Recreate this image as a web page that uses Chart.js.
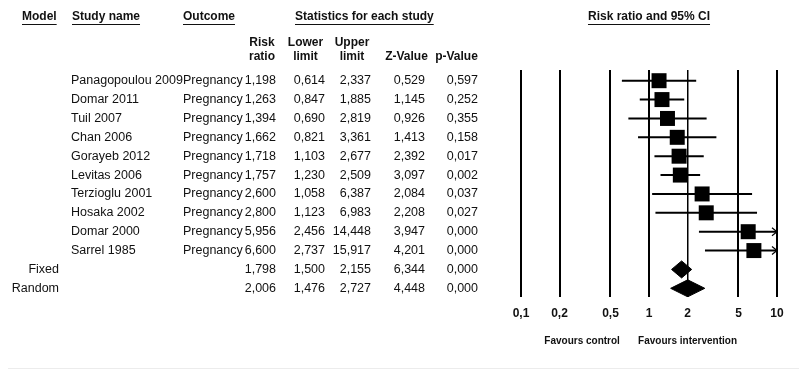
<!DOCTYPE html>
<html>
<head>
<meta charset="utf-8">
<script src="https://cdn.jsdelivr.net/npm/chart.js@4.4.1/dist/chart.umd.min.js"></script>
<style>
  body { margin: 0; background: #fff; }
  #forest { display: block; }
</style>
</head>
<body>
<canvas id="forest" width="799" height="370"></canvas>
<script>
// study rows
const studies = ['Panagopoulou 2009', 'Domar 2011', 'Tuil 2007', 'Chan 2006', 'Gorayeb 2012',
  'Levitas 2006', 'Terzioglu 2001', 'Hosaka 2002', 'Domar 2000', 'Sarrel 1985'];
const outcomes = ['Pregnancy', 'Pregnancy', 'Pregnancy', 'Pregnancy', 'Pregnancy',
  'Pregnancy', 'Pregnancy', 'Pregnancy', 'Pregnancy', 'Pregnancy'];
const riskRatio = [1.198, 1.263, 1.394, 1.662, 1.718, 1.757, 2.600, 2.800, 5.956, 6.600];
const lowerLimit = [0.614, 0.847, 0.690, 0.821, 1.103, 1.230, 1.058, 1.123, 2.456, 2.737];
const upperLimit = [2.337, 1.885, 2.819, 3.361, 2.677, 2.509, 6.387, 6.983, 14.448, 15.917];
const zValue = [0.529, 1.145, 0.926, 1.413, 2.392, 3.097, 2.084, 2.208, 3.947, 4.201];
const pValue = [0.597, 0.252, 0.355, 0.158, 0.017, 0.002, 0.037, 0.027, 0.000, 0.000];

// pooled rows
const models = ['Fixed', 'Random'];
const pooledRR = [1.798, 2.006];
const pooledLower = [1.500, 1.476];
const pooledUpper = [2.155, 2.727];
const pooledZ = [6.344, 4.448];
const pooledP = [0.000, 0.000];

const xTicks = [0.1, 0.2, 0.5, 1, 2, 5, 10];

const FONT = "'Liberation Sans', Arial, sans-serif";
const fmt = v => v.toFixed(3).replace('.', ',');
const nStudies = studies.length;

// columns of the stats table: right edge of numbers, centre of header
const numCols = [
  { right: 276, center: 262, head: ['Risk', 'ratio'] },
  { right: 325, center: 305.5, head: ['Lower', 'limit'] },
  { right: 371, center: 352, head: ['Upper', 'limit'] },
  { right: 425, center: 406.5, head: ['Z-Value'] },
  { right: 478, center: 456.5, head: ['p-Value'] }
];

function underlined(ctx, text, x, y, align) {
  ctx.textAlign = align;
  ctx.fillText(text, x, y);
  const w = ctx.measureText(text).width;
  const x0 = align === 'center' ? x - w / 2 : x;
  ctx.fillRect(x0, y + 7, w, 1);
}

const tablePlugin = {
  id: 'forestTable',
  afterDraw(chart) {
    const ctx = chart.ctx;
    const ys = chart.scales.y;
    const xs = chart.scales.x;
    const area = chart.chartArea;
    ctx.save();
    ctx.fillStyle = '#111';
    ctx.textBaseline = 'middle';

    // top headers
    ctx.font = 'bold 12px ' + FONT;
    underlined(ctx, 'Model', 22, 17, 'left');
    underlined(ctx, 'Study name', 72, 17, 'left');
    underlined(ctx, 'Outcome', 183, 17, 'left');
    underlined(ctx, 'Statistics for each study', 295, 17, 'left');
    underlined(ctx, 'Risk ratio and 95% CI', xs.getPixelForValue(1), 17, 'center');

    ctx.textAlign = 'center';
    numCols.forEach(c => {
      if (c.head.length === 2) {
        ctx.fillText(c.head[0], c.center, 43);
        ctx.fillText(c.head[1], c.center, 57);
      } else {
        ctx.fillText(c.head[0], c.center, 57);
      }
    });

    // study rows
    ctx.font = '12.5px ' + FONT;
    studies.forEach((name, i) => {
      const y = ys.getPixelForValue(i);
      ctx.textAlign = 'left';
      ctx.fillText(name, 71, y);
      ctx.fillText(outcomes[i], 183, y);
      ctx.textAlign = 'right';
      [riskRatio[i], lowerLimit[i], upperLimit[i], zValue[i], pValue[i]].forEach((v, k) => {
        ctx.fillText(fmt(v), numCols[k].right, y);
      });
    });

    // pooled rows
    models.forEach((m, j) => {
      const y = ys.getPixelForValue(nStudies + j);
      ctx.textAlign = 'right';
      ctx.fillText(m, 59, y);
      [pooledRR[j], pooledLower[j], pooledUpper[j], pooledZ[j], pooledP[j]].forEach((v, k) => {
        ctx.fillText(fmt(v), numCols[k].right, y);
      });
    });

    // arrowheads where the interval runs past the axis
    ctx.strokeStyle = '#000';
    ctx.lineWidth = 1.2;
    upperLimit.forEach((u, i) => {
      if (u <= xs.max) return;
      const y = ys.getPixelForValue(i);
      const x = area.right;
      ctx.beginPath();
      ctx.moveTo(x - 5, y - 4);
      ctx.lineTo(x, y);
      ctx.lineTo(x - 5, y + 4);
      ctx.stroke();
    });

    // favours labels
    ctx.font = 'bold 10px ' + FONT;
    ctx.textAlign = 'center';
    ctx.fillStyle = '#111';
    ctx.fillText('Favours control', xs.getPixelForValue(0.3), 341);
    ctx.fillText('Favours intervention', xs.getPixelForValue(2), 341);

    // faint frame line at the bottom
    ctx.fillStyle = '#ececec';
    ctx.fillRect(8, 368, 791, 1);
    ctx.restore();
  }
};

// confidence interval lines, one per study
const ciSets = studies.map((s, i) => ({
  data: [{ x: lowerLimit[i], y: i }, { x: upperLimit[i], y: i }],
  showLine: true,
  borderColor: '#000',
  borderWidth: 2,
  pointRadius: 0
}));

// pooled diamonds
const diamondSets = models.map((m, j) => {
  const r = nStudies + j;
  return {
    data: [
      { x: pooledLower[j], y: r },
      { x: pooledRR[j], y: r - 0.45 },
      { x: pooledUpper[j], y: r },
      { x: pooledRR[j], y: r + 0.45 },
      { x: pooledLower[j], y: r }
    ],
    showLine: true,
    fill: 'shape',
    borderColor: '#000',
    backgroundColor: '#000',
    borderWidth: 1,
    pointRadius: 0
  };
});

const squareSet = {
  data: riskRatio.map((v, i) => ({ x: v, y: i })),
  pointStyle: 'rect',
  pointRadius: 10.6,
  pointBorderWidth: 0,
  backgroundColor: '#000'
};

new Chart(document.getElementById('forest'), {
  type: 'scatter',
  data: { datasets: [squareSet, ...diamondSets, ...ciSets] },
  options: {
    responsive: false,
    animation: false,
    events: [],
    layout: { padding: { left: 521, right: 22, top: 70, bottom: 0 } },
    plugins: { legend: { display: false }, tooltip: { enabled: false } },
    scales: {
      x: {
        type: 'logarithmic',
        min: 0.1,
        max: 10,
        afterBuildTicks: scale => { scale.ticks = xTicks.map(v => ({ value: v })); },
        afterFit: scale => { scale.height = 73; },
        border: { display: false },
        grid: {
          color: '#000',
          lineWidth: c => (c.tick && c.tick.value === 2 ? 1.5 : 2),
          drawTicks: false
        },
        ticks: {
          autoSkip: false,
          maxRotation: 0,
          padding: 9,
          color: '#111',
          font: { family: FONT, size: 12, weight: 'bold' },
          callback: v => String(v).replace('.', ',')
        }
      },
      y: {
        type: 'linear',
        display: false,
        reverse: true,
        min: -0.567,
        max: 11.46
      }
    }
  },
  plugins: [tablePlugin]
});
</script>
</body>
</html>
